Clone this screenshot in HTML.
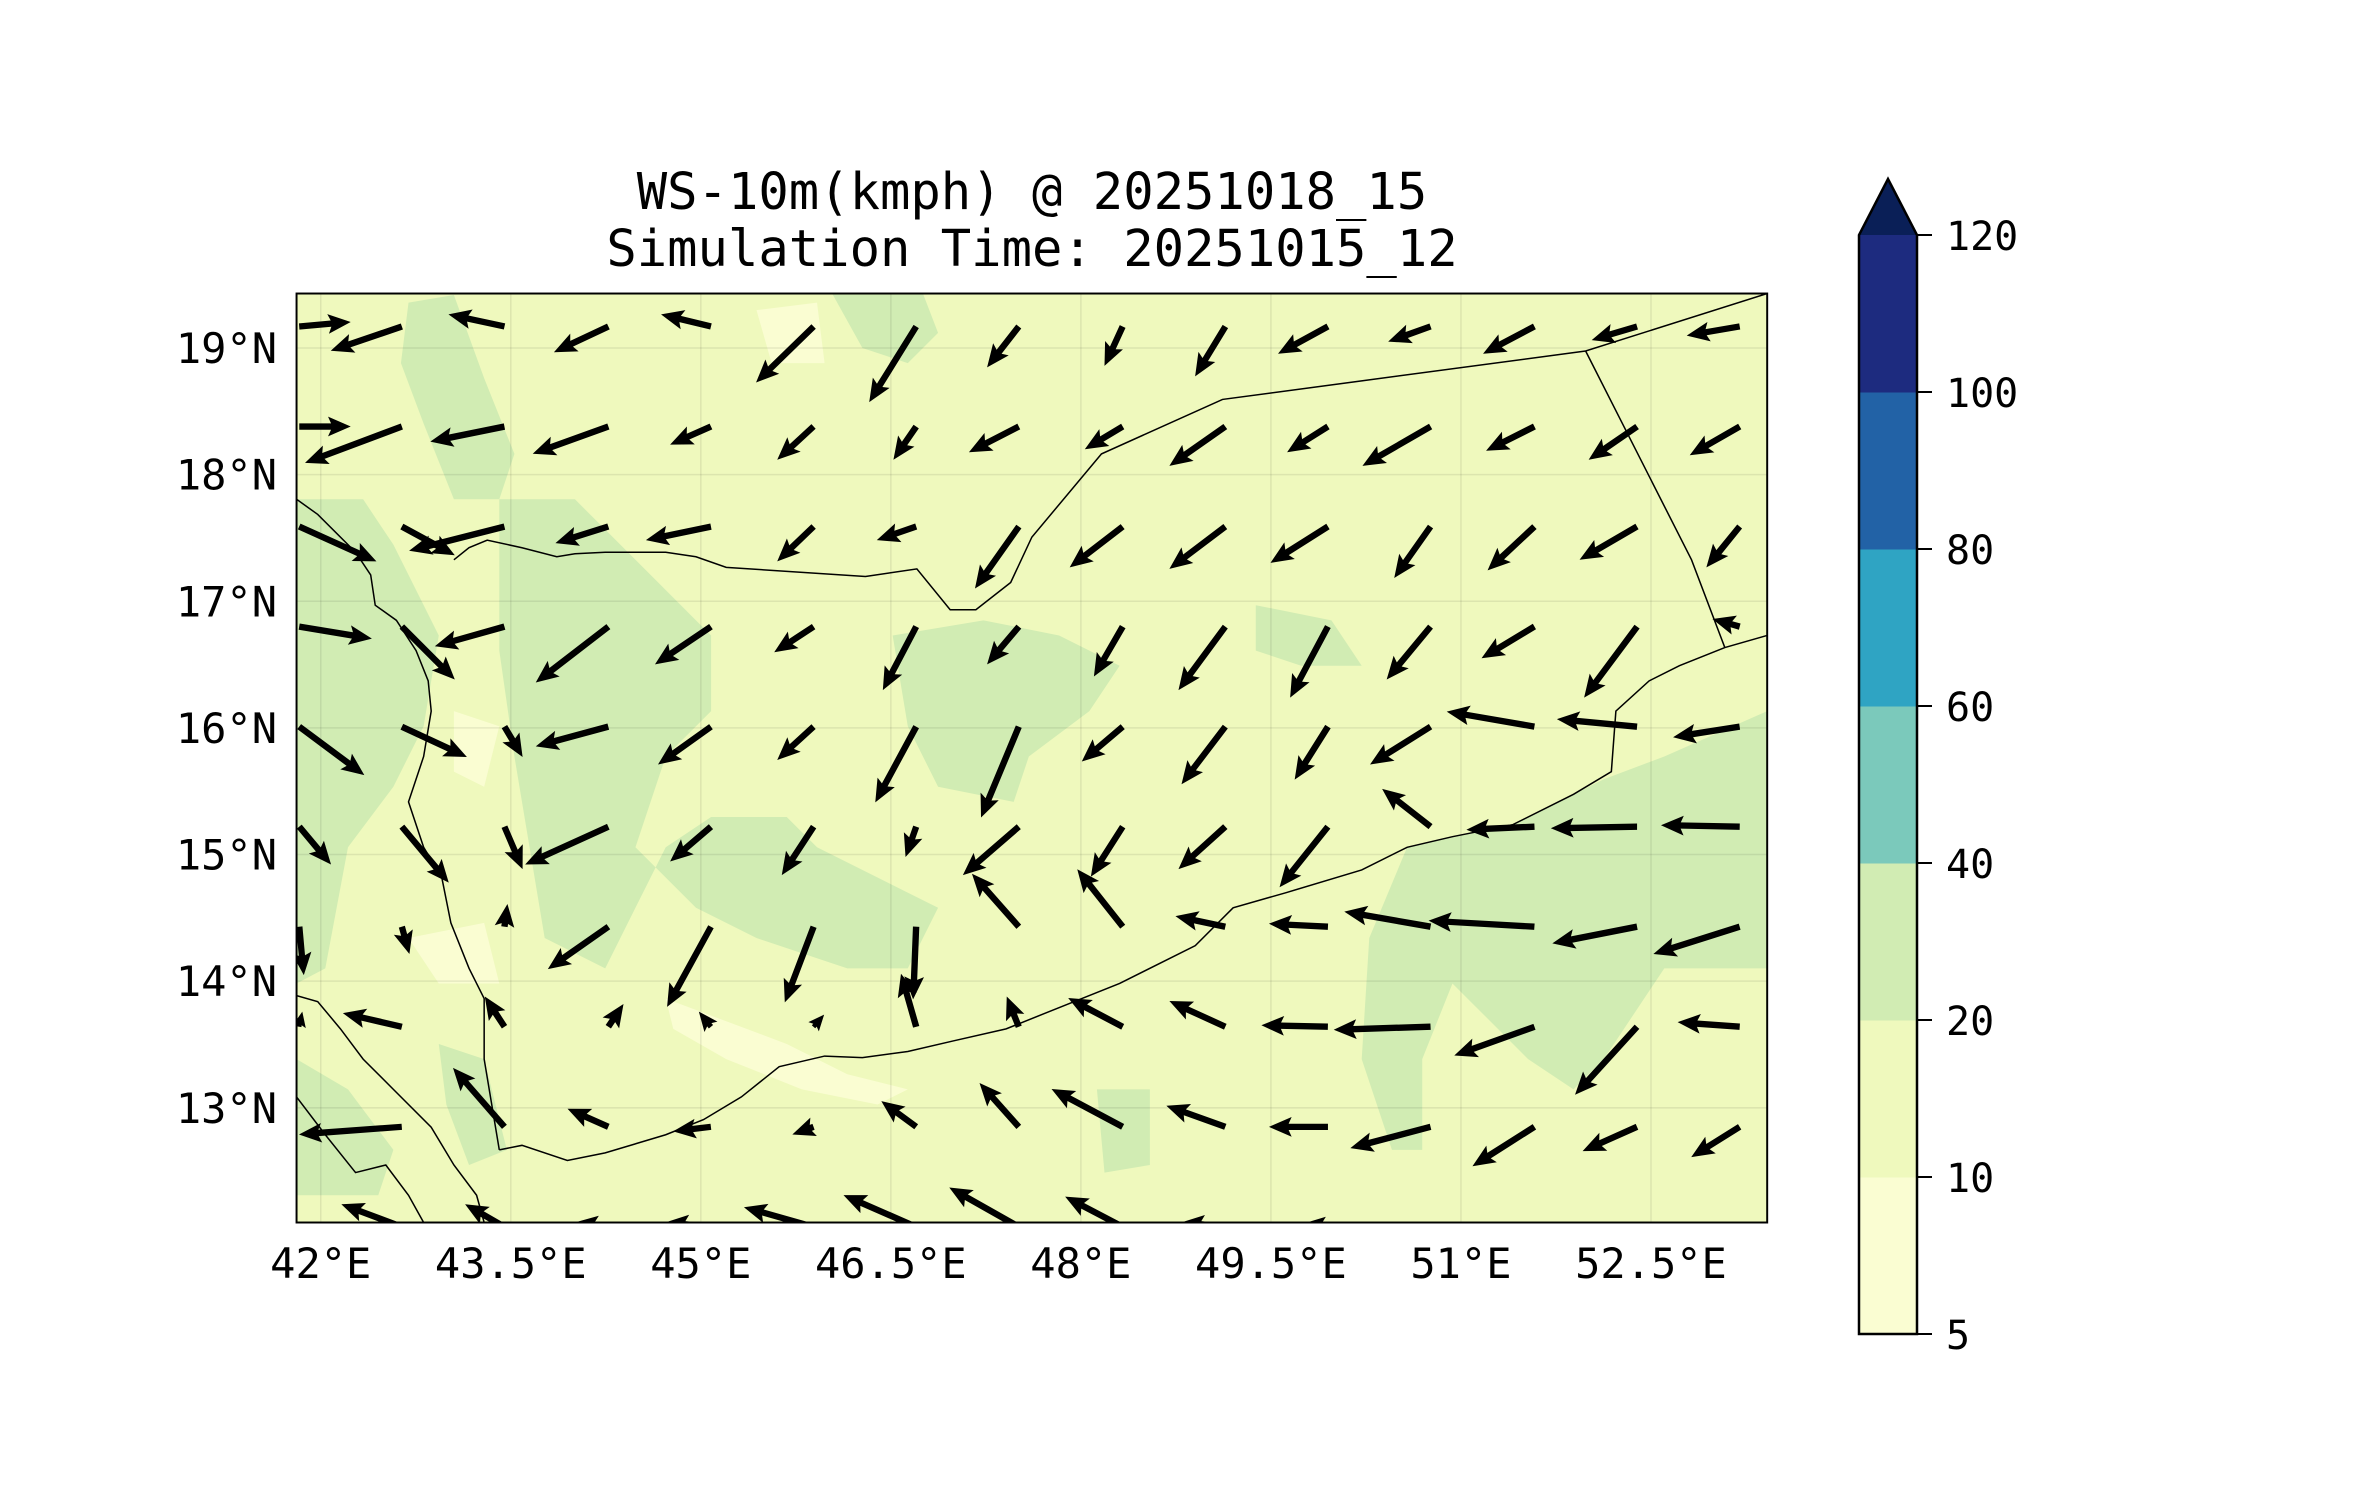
<!DOCTYPE html>
<html><head><meta charset="utf-8"><style>
html,body{margin:0;padding:0;background:#fff;}
body{width:2371px;height:1500px;position:relative;overflow:hidden;font-family:"DejaVu Sans Mono","Liberation Mono",monospace;}
text{font-family:"DejaVu Sans Mono","Liberation Mono",monospace;fill:#000;}
</style></head><body>
<svg id="fig" width="2371" height="1500" viewBox="0 0 2371 1500" xmlns="http://www.w3.org/2000/svg">
<text x="1032" y="209" font-size="50.5" text-anchor="middle">WS-10m(kmph) @ 20251018_15</text>
<text x="1032" y="266" font-size="50.5" text-anchor="middle">Simulation Time: 20251015_12</text>
<defs><clipPath id="clip"><rect x="196" y="194" width="972" height="614"/></clipPath></defs>
<g transform="scale(1.513)">
 <g clip-path="url(#clip)">
  <rect x="196" y="194" width="972" height="614" fill="#eff9bd"/>
  <g fill="#d1ecb3">
   <polygon points="196,330 240,330 260,360 290,420 280,480 260,520 230,560 215,640 196,650"/>
   <polygon points="270,200 300,195 320,250 340,300 330,330 300,330 280,280 265,240"/>
   <polygon points="330,330 380,330 420,370 470,420 470,470 440,500 420,560 460,600 500,620 560,640 600,640 620,600 580,580 540,560 520,540 470,540 440,560 420,600 400,640 360,620 350,560 340,500 330,430"/>
   <polygon points="590,420 650,410 700,420 740,440 720,470 680,500 670,530 620,520 600,480"/>
   <polygon points="930,560 1000,545 1060,515 1100,500 1168,470 1168,640 1100,640 1060,700 1040,720 1010,700 980,670 960,650 940,700 940,760 920,760 900,700 905,620"/>
   <polygon points="550,194 610,194 620,220 600,240 570,230"/>
   <polygon points="830,400 880,410 900,440 860,440 830,430"/>
   <polygon points="725,720 760,720 760,770 730,775"/>
   <polygon points="196,700 230,720 260,760 250,790 196,790"/>
   <polygon points="290,690 320,700 335,760 310,770 295,730"/>
  </g>
  <g fill="#fafdd2">
   <polygon points="440,660 520,690 560,710 600,720 580,730 530,720 480,700 445,680"/>
   <polygon points="270,620 320,610 330,650 290,650"/>
   <polygon points="500,205 540,200 545,240 510,240"/>
   <polygon points="300,470 330,480 320,520 300,510"/>
  </g>
  <g id="grid" stroke="#000" stroke-opacity="0.08" stroke-width="1"></g>
  <g fill="none" stroke="#000" stroke-width="1">
   <polyline points="300,370 310,362 322,357 345,362 368,368 380,366 400,365 440,365 460,368 480,375 572,381 606,376 628,403 645,403 668,385 682,355 728,300 808,264 1048,232 1168,194"/>
   <polyline points="1048,232 1118,370 1140,428"/>
   <polyline points="196,330 210,340 235,365 245,380 248,400 262,410 275,430 283,450 285,470 280,500 270,530 280,560 292,580 298,610 310,640 320,660 320,700 330,760"/>
   <polyline points="330,760 345,757 375,767 400,762 440,750 465,740 490,725 515,705 545,698 570,699 600,695 630,688 665,680 690,670 715,660 740,650 790,625 815,600 850,590 900,575 930,560 960,553 1000,545 1040,525 1065,510 1068,470 1090,450 1110,440 1140,428 1168,420"/>
   <polyline points="196,658 210,662 225,680 240,700 260,720 285,745 300,770 315,790 320,808"/>
   <polyline points="196,725 215,750 235,775 255,770 270,790 280,808"/>
  </g>
  <g id="arrows" fill="#000"></g>
 </g>
 <rect x="196" y="194" width="972" height="614" fill="none" stroke="#000" stroke-width="1.3"/>
</g>
<g id="ticks"></g>
<g id="cbar"></g>
</svg>
<script>
const lonTicks=[42,43.5,45,46.5,48,49.5,51,52.5];
const latTicks=[13,14,15,16,17,18,19];
const gridLons=[41.83,42.64,43.45,44.27,45.08,45.89,46.70,47.51,48.33,49.14,49.95,50.76,51.58,52.39,53.20];
const gridLats=[19.17,18.38,17.59,16.80,16.01,15.22,14.43,13.64,12.85,12.06];
// wind components (east, north) per row, in display units
const uRows=[
[34,-47,-37,-36,-33,-38,-31,-21,-12,-20,-33,-28,-34,-30,-35],
[34,-64,-49,-50,-27,-24,-15,-33,-25,-37,-27,-45,-32,-32,-33],
[51,35,-63,-35,-43,-24,-26,-29,-35,-37,-38,-24,-31,-38,-22],
[48,35,-46,-48,-37,-26,-22,-21,-19,-31,-25,-29,-35,-35,-18],
[43,43,12,-48,-35,-24,-27,-25,-27,-29,-22,-40,-58,-53,-44],
[21,31,12,-55,-27,-21,-7,-37,-21,-31,-32,-32,-45,-57,-52],
[3,5,2,-40,-29,-19,-2,-31,-30,-33,-39,-57,-70,-56,-57],
[2,-39,-13,10,-8,7,-10,-8,-36,-37,-44,-64,-53,-41,-41],
[0,-68,-34,-27,-25,-14,-23,-26,-47,-39,-39,-53,-41,-36,-32],
[0,-40,-26,-22,-30,-46,-48,-46,-38,-29,-17,0,0,0,0]];
const vRows=[
[3,-16,8,-17,8,-37,-50,-27,-26,-33,-18,-10,-18,-9,-6],
[0,-24,-10,-18,-12,-22,-22,-17,-15,-26,-17,-26,-16,-22,-19],
[-23,-19,-16,-11,-9,-23,-9,-41,-27,-28,-24,-34,-29,-22,-27],
[-8,-35,-13,-37,-25,-17,-42,-25,-33,-42,-47,-35,-21,-47,5],
[-32,-20,-20,-13,-25,-22,-50,-60,-23,-38,-35,-25,10,5,-7],
[-25,-37,-28,-25,-23,-32,-20,-32,-33,-28,-40,25,-2,-1,1],
[-32,-18,15,-28,-53,-50,-48,35,38,7,2,10,4,-11,-18],
[10,9,20,15,10,8,35,20,19,17,1,-2,-19,-45,3],
[0,-5,39,12,-3,-5,17,29,25,14,0,-14,-26,-16,-20],
[0,15,15,3,3,13,21,26,20,3,2,0,0,0,0]];
const NS="http://www.w3.org/2000/svg";
const s=1.513;
function xs(lon){return 212+(lon-42)/1.5*125.6;}
function ys(lat){return 230+(19-lat)*83.7;}
const grid=document.getElementById('grid');
lonTicks.forEach(l=>{const ln=document.createElementNS(NS,'line');


ln.setAttribute('x1',xs(l));ln.setAttribute('x2',xs(l));ln.setAttribute('y1',194);ln.setAttribute('y2',808);grid.appendChild(ln);});
latTicks.forEach(l=>{const ln=document.createElementNS(NS,'line');


ln.setAttribute('y1',ys(l));ln.setAttribute('y2',ys(l));ln.setAttribute('x1',196);ln.setAttribute('x2',1168);grid.appendChild(ln);});
const ag=document.getElementById('arrows');
for(let j=0;j<gridLats.length;j++)for(let i=0;i<gridLons.length;i++){
 const dx=uRows[j][i],dy=-vRows[j][i];const L=Math.hypot(dx,dy);if(L<1)continue;
 const tx=xs(gridLons[i]),ty=ys(gridLats[j]);const ux=dx/L,uy=dy/L,px=-uy,py=ux;
 let w=4.2,hw=13,hl=15,ha=13;if(L<hl){const k=L/hl;w*=k;hw*=k;hl*=k;ha*=k;}
 const P=(a,b)=>[(tx+ux*a+px*b).toFixed(1),(ty+uy*a+py*b).toFixed(1)].join(',');
 const pts=[P(0,w/2),P(L-ha,w/2),P(L-hl,hw/2),P(L,0),P(L-hl,-hw/2),P(L-ha,-w/2),P(0,-w/2)].join(' ');
 const pg=document.createElementNS(NS,'polygon');
 
 
 pg.setAttribute('points',pts);ag.appendChild(pg);}
const tg=document.getElementById('ticks');
function txt(x,y,str,anchor,size,name){const t=document.createElementNS(NS,'text');
 
 
 t.setAttribute('x',x);t.setAttribute('y',y);t.setAttribute('text-anchor',anchor);t.setAttribute('font-size',size);t.textContent=str;return t;}
lonTicks.forEach(l=>tg.appendChild(txt(xs(l)*s,1278,(l%1?l.toFixed(1):l)+'°E','middle',42,'x-tick-label')));
latTicks.forEach(l=>tg.appendChild(txt(277,ys(l)*s+15,l+'°N','end',42,'y-tick-label')));
// colorbar
const levels=[5,10,20,40,60,80,100,120];
const colors=['#fafdd2','#eff9bd','#d1ecb3','#7bc9bb','#2fa4c3','#2262a6','#1d2b7f'];
const cb=document.getElementById('cbar');const cx0=1859,cx1=1917,cyb=1334,cyt=235;
function cy(k){return cyb-(cyb-cyt)*k/(levels.length-1);}
for(let k=0;k<colors.length;k++){const r=document.createElementNS(NS,'rect');
 
 
 r.setAttribute('x',cx0);r.setAttribute('width',cx1-cx0);r.setAttribute('y',cy(k+1));r.setAttribute('height',cy(k)-cy(k+1)+0.5);r.setAttribute('fill',colors[k]);cb.appendChild(r);}
const tri=document.createElementNS(NS,'polygon');


tri.setAttribute('points',`${cx0},${cyt} ${(cx0+cx1)/2},179 ${cx1},${cyt}`);tri.setAttribute('fill','#0a1f57');cb.appendChild(tri);
const out=document.createElementNS(NS,'polygon');


out.setAttribute('points',`${cx0},${cyb} ${cx0},${cyt} ${(cx0+cx1)/2},179 ${cx1},${cyt} ${cx1},${cyb}`);out.setAttribute('fill','none');out.setAttribute('stroke','#000');out.setAttribute('stroke-width','2.5');cb.appendChild(out);
levels.forEach((lv,k)=>{const ln=document.createElementNS(NS,'line');
 
 
 ln.setAttribute('x1',cx1);ln.setAttribute('x2',cx1+15);ln.setAttribute('y1',cy(k));ln.setAttribute('y2',cy(k));ln.setAttribute('stroke','#000');ln.setAttribute('stroke-width','2');cb.appendChild(ln);
 cb.appendChild(txt(1946,cy(k)+15,String(lv),'start',40,'colorbar-tick-label'));});
</script>
</body></html>
